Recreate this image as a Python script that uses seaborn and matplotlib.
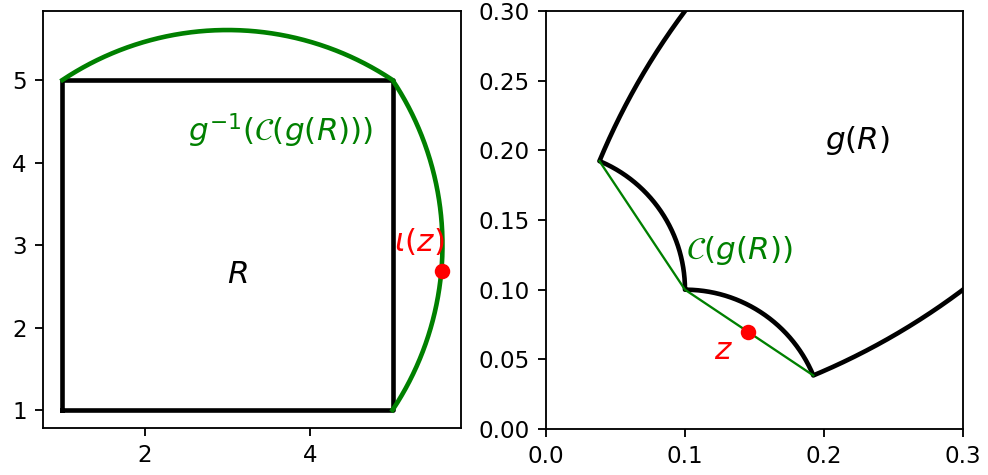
import matplotlib
matplotlib.use("Agg")
import matplotlib.pyplot as plt
import seaborn as sns
import numpy as np

# square R (corners, closed)
square_x = [1, 5, 5, 1, 1]
square_y = [1, 1, 5, 5, 1]
# point z
z_point = (0.1453, 0.0696)
# axis ticks
left_xticks = [2, 4]
left_yticks = [1, 2, 3, 4, 5]
right_ticks_x = [0.0, 0.1, 0.2, 0.3]
right_ticks_y = [0.0, 0.05, 0.10, 0.15, 0.20, 0.25, 0.30]


def invert(x, y):
    # g(z) = z / |z|^2 (inversion in the unit circle), its own inverse
    x = np.asarray(x, float)
    y = np.asarray(y, float)
    r2 = x ** 2 + y ** 2
    return x / r2, y / r2


def sample_path(px, py, n=400):
    xs, ys = [], []
    for i in range(len(px) - 1):
        t = np.linspace(0, 1, n)
        xs.append(px[i] + t * (px[i + 1] - px[i]))
        ys.append(py[i] + t * (py[i + 1] - py[i]))
    return np.concatenate(xs), np.concatenate(ys)


# g(R): image of the square's edges
sq_x, sq_y = sample_path(square_x, square_y)
gR_x, gR_y = invert(sq_x, sq_y)

# convex hull of g(R) inside the view: images of the three corners
hull_x, hull_y = invert([1, 5, 5], [5, 5, 1])
# its preimage g^{-1}(C(g(R)))
hs_x, hs_y = sample_path(list(hull_x), list(hull_y))
arc_x, arc_y = invert(hs_x, hs_y)

iz_x, iz_y = invert([z_point[0]], [z_point[1]])

dpi = 166
fs = 13.5
fig = plt.figure(figsize=(988 / dpi, 475 / dpi), dpi=dpi)
ax1 = fig.add_axes([0.0435, 0.0989, 0.4231, 0.8779])
ax2 = fig.add_axes([0.5526, 0.0968, 0.4221, 0.8800])

# left panel
sns.lineplot(x=square_x, y=square_y, sort=False, estimator=None,
             color="black", lw=2, ax=ax1)
sns.lineplot(x=arc_x, y=arc_y, sort=False, estimator=None,
             color="green", lw=2, ax=ax1)
sns.scatterplot(x=iz_x, y=iz_y, color="red", s=45, linewidth=0,
                zorder=5, ax=ax1)
ax1.text(3.64, 4.39, r"$g^{-1}(\mathcal{C}(g(R)))$", color="green",
         fontsize=fs, ha="center", va="center")
ax1.text(3.115, 2.64, r"$R$", fontsize=fs, ha="center", va="center")
ax1.text(5.32, 3.04, r"$\iota(z)$", color="red", fontsize=fs,
         ha="center", va="center")
ax1.set_xlim(0.764, 5.830)
ax1.set_ylim(0.782, 5.836)
ax1.set_xticks(left_xticks)
ax1.set_yticks(left_yticks)

# right panel
sns.lineplot(x=gR_x, y=gR_y, sort=False, estimator=None,
             color="black", lw=2, ax=ax2)
sns.lineplot(x=hull_x, y=hull_y, sort=False, estimator=None,
             color="green", lw=1, ax=ax2)
sns.scatterplot(x=[z_point[0]], y=[z_point[1]], color="red", s=45,
                linewidth=0, zorder=5, ax=ax2)
ax2.text(0.224, 0.207, r"$g(R)$", fontsize=fs, ha="center", va="center")
ax2.text(0.139, 0.128, r"$\mathcal{C}(g(R))$", color="green", fontsize=fs,
         ha="center", va="center")
ax2.text(0.1275, 0.056, r"$z$", color="red", fontsize=fs,
         ha="center", va="center")
ax2.set_xlim(0, 0.3)
ax2.set_ylim(0, 0.3)
ax2.set_xticks(right_ticks_x)
ax2.set_yticks(right_ticks_y)

fig.savefig("out.png", dpi=dpi)
